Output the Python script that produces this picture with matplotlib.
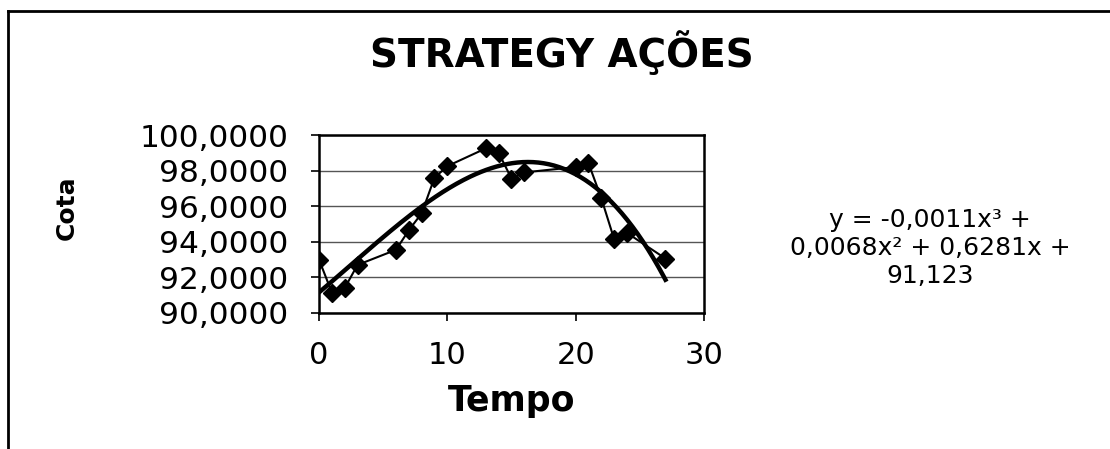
import numpy as np
import matplotlib
matplotlib.use("Agg")
import matplotlib.pyplot as plt
from matplotlib.lines import Line2D

plt.rcParams['font.family'] = ['DejaVu Sans']

# data
tempo = [0, 1, 2, 3, 6, 7, 8, 9, 10, 13, 14, 15, 16, 20, 21, 22, 23, 24, 27]
cota = [93.0, 91.15, 91.4, 92.7, 93.55, 94.65, 95.6, 97.6, 98.25, 99.25,
        99.0, 97.55, 97.9, 98.2, 98.42, 96.45, 94.15, 94.5, 93.06]

eq_text = "y = -0,0011x\u00b3 +\n0,0068x\u00b2 + 0,6281x +\n91,123"

yticks = [90, 92, 94, 96, 98, 100]
xticks = [0, 10, 20, 30]

fig = plt.figure(figsize=(11.1, 4.49), dpi=100)
ax = fig.add_axes([0.2874, 0.3029, 0.3468, 0.3964])

# 3rd order polynomial trendline fitted to the series
coefs = np.polyfit(tempo, cota, 3)
xt = np.linspace(min(tempo), max(tempo), 200)
ax.plot(xt, np.polyval(coefs, xt), color='black', lw=3.2, zorder=3)
# series
ax.plot(tempo, cota, color='black', lw=1.5, marker='D', ms=9,
        markeredgecolor='black', zorder=4)

ax.set_xlim(0, 30)
ax.set_ylim(90, 100)
ax.set_xticks(xticks)
ax.set_yticks(yticks)
ax.set_yticklabels([f"{v:.4f}".replace('.', ',') for v in yticks])
ax.yaxis.grid(True, color='#555555', lw=1)
ax.set_axisbelow(True)
for s in ax.spines.values():
    s.set_color('black')
    s.set_linewidth(1.8)
ax.tick_params(axis='both', direction='out', length=6, width=1.2, pad=16)
ax.tick_params(axis='y', labelsize=22.5)
ax.tick_params(axis='x', labelsize=22, pad=14)

ax.set_xlabel("Tempo", fontsize=25, fontweight='bold', labelpad=10)
fig.text(0.060, 0.537, "Cota", rotation=90, fontsize=18, fontweight='bold',
         ha='center', va='center')
fig.text(0.506, 0.884, "STRATEGY AÇÕES", fontsize=28, fontweight='bold',
         ha='center', va='center')
fig.text(0.838, 0.447, eq_text, fontsize=18, ha='center', va='center',
         linespacing=1.2)

# outer chart frame (top and left edges visible)
fig.add_artist(Line2D([0.0072, 1.0], [0.9755, 0.9755], color='black', lw=2,
                      transform=fig.transFigure))
fig.add_artist(Line2D([0.0072, 0.0072], [0.0, 0.9755], color='black', lw=2,
                      transform=fig.transFigure))

fig.savefig("out.png", dpi=100)
